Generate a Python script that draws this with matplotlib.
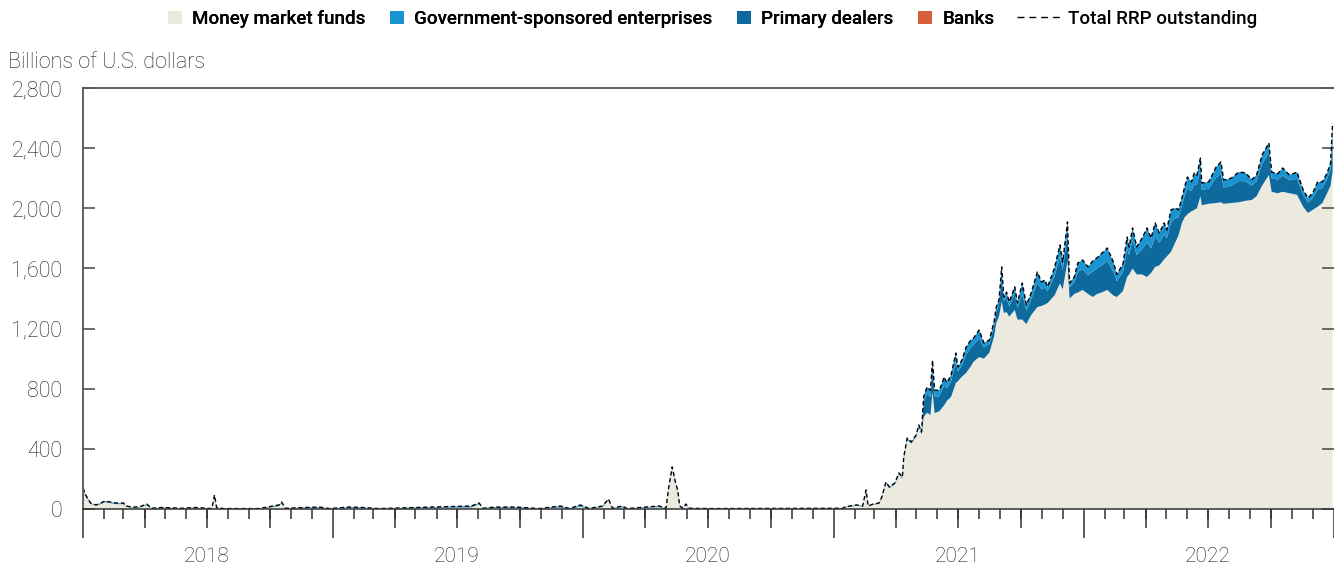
import matplotlib
matplotlib.use("Agg")
import matplotlib.pyplot as plt
import matplotlib.dates as mdates
from matplotlib.patches import Patch
from matplotlib.lines import Line2D
from matplotlib.ticker import FuncFormatter
import numpy as np
import pandas as pd

plt.rcParams['font.family'] = ['Roboto', 'DejaVu Sans']

# ---------------- data (billions of U.S. dollars) ----------------
dates = [
    "2018-01-01", "2018-01-05", "2018-01-12", "2018-01-20", "2018-01-27", "2018-02-02",
    "2018-02-09", "2018-02-17", "2018-02-24", "2018-03-01", "2018-03-05", "2018-03-13",
    "2018-03-24", "2018-04-04", "2018-04-11", "2018-04-26", "2018-05-26", "2018-06-14",
    "2018-07-08", "2018-07-12", "2018-07-15", "2018-07-25", "2018-09-15", "2018-10-14",
    "2018-10-18", "2018-10-23", "2018-12-12", "2018-12-27", "2019-01-25", "2019-02-13",
    "2019-03-08", "2019-07-22", "2019-08-02", "2019-08-08", "2019-08-26", "2019-09-24",
    "2019-10-29", "2019-11-29", "2019-12-12", "2019-12-28", "2020-01-10", "2020-01-29",
    "2020-02-07", "2020-02-13", "2020-02-27", "2020-03-05", "2020-04-21", "2020-05-01",
    "2020-05-05", "2020-05-10", "2020-05-15", "2020-05-18", "2020-05-21", "2020-05-26",
    "2020-05-30", "2020-06-04", "2020-07-03", "2021-01-14", "2021-01-18", "2021-02-03",
    "2021-02-12", "2021-02-17", "2021-02-20", "2021-02-27", "2021-03-08", "2021-03-12",
    "2021-03-18", "2021-03-23", "2021-03-31", "2021-04-06", "2021-04-11", "2021-04-13",
    "2021-04-18", "2021-04-24", "2021-05-01", "2021-05-05", "2021-05-09", "2021-05-12",
    "2021-05-17", "2021-05-22", "2021-05-25", "2021-05-28", "2021-06-04", "2021-06-11",
    "2021-06-15", "2021-06-21", "2021-06-28", "2021-07-01", "2021-07-07", "2021-07-13",
    "2021-07-20", "2021-07-24", "2021-08-01", "2021-08-08", "2021-08-16", "2021-08-23",
    "2021-08-26", "2021-08-30", "2021-09-03", "2021-09-06", "2021-09-10", "2021-09-14",
    "2021-09-22", "2021-09-26", "2021-10-03", "2021-10-09", "2021-10-16", "2021-10-25",
    "2021-10-31", "2021-11-05", "2021-11-09", "2021-11-19", "2021-11-27", "2021-12-01",
    "2021-12-08", "2021-12-11", "2021-12-18", "2021-12-23", "2021-12-30", "2022-01-07",
    "2022-01-14", "2022-01-20", "2022-01-27", "2022-02-04", "2022-02-13", "2022-02-18",
    "2022-02-27", "2022-03-05", "2022-03-08", "2022-03-13", "2022-03-19", "2022-03-27",
    "2022-04-03", "2022-04-09", "2022-04-15", "2022-04-21", "2022-04-28", "2022-05-02",
    "2022-05-08", "2022-05-15", "2022-05-19", "2022-05-24", "2022-05-28", "2022-06-01",
    "2022-06-07", "2022-06-11", "2022-06-15", "2022-06-20", "2022-06-22", "2022-07-02",
    "2022-07-13", "2022-07-20", "2022-07-24", "2022-08-04", "2022-08-15", "2022-08-25",
    "2022-09-03", "2022-09-10", "2022-09-18", "2022-09-28", "2022-10-02", "2022-10-11",
    "2022-10-18", "2022-10-28", "2022-11-08", "2022-11-17", "2022-11-24", "2022-12-01",
    "2022-12-08", "2022-12-15", "2022-12-22", "2022-12-27", "2022-12-30",
]

money_market_funds = [
    125, 82, 34, 22, 33, 45, 40, 33, 32, 33, 15, 9,
    9, 26, 3, 6, 3, 5, 2, 85, 7, 2, 2, 18,
    40, 3, 6, 2, 6, 5, 2, 10, 32, 3, 6, 6,
    2, 10, 2, 15, 2, 12, 58, 3, 12, 2, 12, 3,
    140, 272, 167, 120, 15, 3, 28, 3, 2, 3, 11, 22,
    16, 120, 16, 28, 34, 73, 172, 138, 165, 230, 203, 335,
    460, 435, 480, 545, 495, 612, 640, 625, 780, 638, 650, 690,
    720, 745, 838, 850, 880, 905, 950, 980, 1010, 1000, 1040, 1150,
    1237, 1280, 1380, 1304, 1310, 1280, 1324, 1260, 1260, 1230, 1290, 1343,
    1350, 1360, 1370, 1420, 1500, 1460, 1650, 1400, 1430, 1440, 1457, 1430,
    1410, 1430, 1440, 1457, 1420, 1410, 1450, 1543, 1560, 1600, 1560, 1560,
    1543, 1570, 1610, 1620, 1660, 1680, 1710, 1780, 1820, 1902, 1940, 1960,
    1980, 1990, 2000, 2080, 2020, 2030, 2035, 2040, 2030, 2035, 2040, 2050,
    2055, 2080, 2150, 2221, 2110, 2100, 2110, 2100, 2090, 2010, 1969, 1990,
    2010, 2035, 2100, 2150, 2250,
]

gov_sponsored = [
    8, 6, 3, 3, 4, 5, 4, 4, 5, 4, 3, 2,
    2, 4, 1, 2, 1, 3, 1, 4, 2, 1, 1, 5,
    4, 1, 4, 1, 4, 3, 1, 6, 5, 1, 4, 4,
    1, 6, 1, 7, 1, 5, 5, 1, 5, 1, 5, 1,
    3, 4, 3, 3, 3, 1, 3, 1, 1, 1, 2, 3,
    2, 3, 2, 3, 3, 4, 4, 4, 4, 5, 5, 6,
    6, 6, 6, 7, 8, 35, 45, 45, 60, 45, 40, 55,
    35, 45, 60, 30, 35, 50, 50, 45, 55, 30, 25, 30,
    35, 35, 70, 30, 40, 30, 45, 35, 75, 40, 45, 70,
    50, 50, 30, 55, 80, 55, 80, 30, 35, 60, 60, 55,
    70, 70, 80, 85, 65, 45, 55, 80, 55, 80, 55, 75,
    95, 70, 90, 65, 75, 55, 85, 65, 50, 50, 60, 75,
    60, 75, 65, 75, 45, 45, 70, 80, 50, 50, 60, 55,
    40, 40, 60, 65, 40, 40, 50, 35, 45, 35, 30, 35,
    50, 40, 40, 45, 95,
]

primary_dealers = [
    7, 5, 3, 2, 3, 3, 3, 3, 3, 3, 2, 2,
    2, 3, 1, 2, 1, 2, 0, 4, 1, 0, 0, 4,
    3, 1, 3, 0, 3, 2, 0, 4, 3, 1, 3, 3,
    0, 4, 0, 5, 0, 3, 3, 1, 3, 0, 3, 1,
    3, 4, 3, 3, 2, 1, 2, 1, 0, 1, 2, 2,
    2, 3, 2, 2, 3, 3, 4, 4, 4, 5, 5, 5,
    6, 5, 6, 7, 9, 98, 126, 120, 150, 107, 100, 133,
    83, 101, 139, 64, 76, 122, 124, 112, 125, 74, 59, 70,
    71, 75, 160, 76, 93, 67, 108, 75, 168, 87, 102, 163,
    110, 113, 77, 128, 176, 128, 179, 73, 78, 136, 139, 125,
    170, 170, 180, 194, 158, 105, 125, 186, 128, 189, 128, 167,
    231, 162, 202, 151, 167, 121, 194, 157, 119, 116, 142, 173,
    135, 170, 156, 179, 103, 100, 170, 188, 108, 115, 141, 130,
    95, 101, 144, 148, 91, 90, 108, 86, 106, 77, 69, 77,
    115, 100, 95, 106, 222,
]

banks = [0] * len(dates)  # too small to be visible at this scale

labels = ["Money market funds", "Government-sponsored enterprises",
          "Primary dealers", "Banks", "Total RRP outstanding"]

C_MMF = "#ECE9DF"
C_GSE = "#1A94D1"
C_PD = "#0E699C"
C_BANK = "#D3603A"
TXT = "#1e1e1e"

d = pd.to_datetime(dates)
total = (np.array(money_market_funds) + np.array(gov_sponsored)
         + np.array(primary_dealers) + np.array(banks))

# ---------------- figure ----------------
W, H = 1334, 565
fig = plt.figure(figsize=(W / 100, H / 100), dpi=100)
ax = fig.add_axes([83 / W, 1 - 509 / H, 1 - 83 / W, (509 - 88) / H])

ax.stackplot(d, money_market_funds, primary_dealers, gov_sponsored, banks,
             colors=[C_MMF, C_PD, C_GSE, C_BANK], linewidth=0)
ax.plot(d, total, color="black", lw=1.0, dashes=(3, 2))

ax.set_xlim(pd.Timestamp("2018-01-01"), pd.Timestamp("2023-01-01"))
ax.set_ylim(0, 2800)

FS = 15.5
# y axis
ax.set_yticks(range(0, 2801, 400))
ax.yaxis.set_major_formatter(FuncFormatter(lambda v, p: f"{int(v):,}"))
ax.tick_params(axis="y", which="both", direction="in", left=True, right=True,
               length=8.5, width=1.1, color="#444", pad=15,
               labelsize=FS, labelcolor=TXT)
for lab in ax.get_yticklabels():
    lab.set_fontweight("light")

# x axis: year (major), month (minor), quarter (secondary)
ax.xaxis.set_major_locator(mdates.YearLocator())
ax.xaxis.set_major_formatter(FuncFormatter(lambda v, p: ""))
ax.xaxis.set_minor_locator(mdates.MonthLocator())


def year_label(v, p):
    dt = mdates.num2date(v)
    return str(dt.year) if dt.month == 7 else ""


ax.xaxis.set_minor_formatter(FuncFormatter(year_label))
ax.tick_params(axis="x", which="major", direction="out", length=21, width=1.1,
               color="#333")
ax.tick_params(axis="x", which="minor", direction="out", length=7.2, width=1.1,
               color="#333", pad=20, labelsize=FS - 0.5, labelcolor=TXT)
for lab in ax.xaxis.get_minorticklabels():
    lab.set_fontweight("light")

sec = ax.secondary_xaxis("bottom")
sec.xaxis.set_major_locator(mdates.MonthLocator(bymonth=[4, 7, 10]))
sec.tick_params(axis="x", direction="out", length=13.7, width=1.1,
                color="#333", labelbottom=False)
sec.spines["bottom"].set_visible(False)

for s in ["top", "left"]:
    ax.spines[s].set_color("#555")
    ax.spines[s].set_linewidth(1.3)
ax.spines["bottom"].set_color("#333")
ax.spines["bottom"].set_linewidth(1.1)
ax.spines["right"].set_visible(False)

fig.text(8 / W, 1 - 63 / H, "Billions of U.S. dollars", ha="left", va="center",
         fontsize=FS, color=TXT, fontweight="light")

# ---------------- legend ----------------
LFS = 13.5
prop = {"size": LFS, "weight": "medium"}
sq_handles = [Patch(facecolor=C_MMF), Patch(facecolor=C_GSE), Patch(facecolor=C_PD),
              Patch(facecolor=C_BANK)]
leg1 = fig.legend(sq_handles, labels[:4], loc="center",
                  bbox_to_anchor=(581 / W, 1 - 19 / H), ncol=4, frameon=False,
                  handlelength=0.75, handleheight=0.75, handletextpad=0.53,
                  columnspacing=1.33, borderaxespad=0, borderpad=0, prop=prop)
leg2 = fig.legend([Line2D([], [], color="black", lw=1.0, dashes=(5, 3.5))], labels[4:],
                  loc="center", bbox_to_anchor=(1137.5 / W, 1 - 19 / H),
                  frameon=False, handlelength=2.35, handletextpad=0.37,
                  borderaxespad=0, borderpad=0, prop=prop)
fig.add_artist(leg1)

fig.savefig("out.png", dpi=100)
